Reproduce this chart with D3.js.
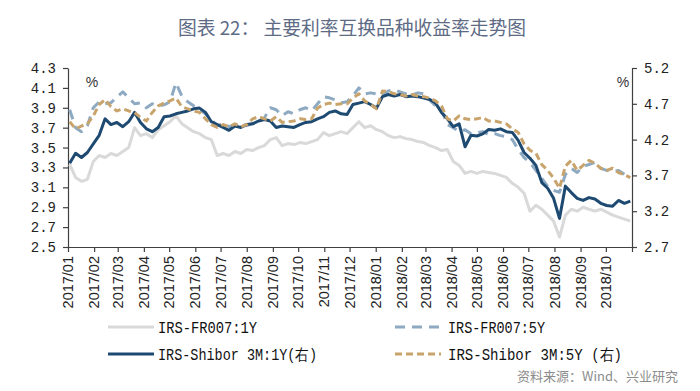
<!DOCTYPE html>
<html><head><meta charset="utf-8">
<script src="https://cdn.jsdelivr.net/npm/d3@7"></script>
<style>
html,body{margin:0;padding:0;background:#fff;}
svg{display:block;}
</style></head>
<body>
<svg id="chart" width="700" height="391"></svg>
<script>
// ---- data (weekly observations starting 2017-01-03) ----
const startDate = "2017-01-03";
const stepDays = 7;
const fr007_1y = [3.33,3.20,3.16,3.18,3.36,3.42,3.40,3.44,3.42,3.46,3.50,3.70,3.62,3.64,3.60,3.68,3.72,3.76,3.82,3.74,
3.70,3.66,3.64,3.60,3.58,3.42,3.44,3.42,3.46,3.44,3.48,3.47,3.50,3.52,3.58,3.60,3.52,3.54,3.53,3.55,
3.54,3.56,3.58,3.65,3.62,3.64,3.66,3.64,3.70,3.76,3.70,3.72,3.68,3.66,3.62,3.60,3.61,3.59,3.58,3.56,
3.55,3.52,3.50,3.47,3.48,3.36,3.32,3.24,3.26,3.24,3.26,3.25,3.24,3.22,3.20,3.14,3.10,3.04,2.86,2.92,
2.88,2.82,2.76,2.60,2.82,2.88,2.86,2.90,2.88,2.86,2.88,2.85,2.82,2.80,2.78,2.76];
const fr007_5y = [3.88,3.70,3.66,3.72,3.90,3.96,3.94,3.95,4.01,4.06,4.00,3.94,3.95,3.90,3.94,3.92,3.93,3.96,4.15,4.02,
3.96,3.92,3.88,3.84,3.78,3.72,3.74,3.71,3.73,3.74,3.72,3.74,3.76,3.80,3.90,3.88,3.82,3.86,3.84,3.88,
3.90,3.87,3.94,4.01,4.00,3.98,3.95,3.96,4.02,4.10,4.04,4.05,4.04,4.02,4.07,4.08,4.06,4.04,4.03,4.05,
4.04,3.98,3.92,3.88,3.73,3.70,3.66,3.68,3.64,3.65,3.66,3.63,3.64,3.62,3.61,3.58,3.48,3.40,3.35,3.27,
3.19,3.11,3.07,3.05,3.23,3.29,3.25,3.31,3.33,3.35,3.29,3.27,3.26,3.27,3.23,3.21];
const shibor_1y = [3.87,4.01,3.95,4.02,4.14,4.26,4.49,4.41,4.44,4.38,4.45,4.58,4.44,4.35,4.31,4.37,4.52,4.53,4.56,4.58,
4.60,4.63,4.64,4.58,4.45,4.41,4.37,4.33,4.39,4.37,4.41,4.42,4.46,4.48,4.46,4.37,4.39,4.38,4.37,4.41,
4.44,4.45,4.49,4.52,4.58,4.60,4.56,4.55,4.69,4.71,4.73,4.69,4.64,4.80,4.83,4.81,4.83,4.80,4.81,4.80,
4.78,4.76,4.71,4.58,4.49,4.38,4.42,4.10,4.26,4.25,4.28,4.34,4.33,4.35,4.31,4.30,4.19,4.02,3.94,3.84,
3.60,3.52,3.38,3.10,3.55,3.46,3.38,3.35,3.39,3.37,3.31,3.28,3.27,3.35,3.31,3.34];
const shibor_5y = [4.45,4.35,4.39,4.42,4.53,4.69,4.76,4.66,4.60,4.63,4.60,4.58,4.51,4.46,4.58,4.67,4.71,4.74,4.78,4.66,
4.63,4.60,4.58,4.49,4.41,4.37,4.41,4.38,4.42,4.38,4.41,4.49,4.52,4.49,4.46,4.52,4.44,4.45,4.46,4.49,
4.48,4.49,4.64,4.69,4.71,4.69,4.70,4.70,4.78,4.84,4.74,4.69,4.63,4.88,4.87,4.84,4.83,4.81,4.83,4.81,
4.80,4.78,4.74,4.67,4.49,4.46,4.53,4.49,4.48,4.49,4.51,4.46,4.46,4.44,4.42,4.35,4.30,4.14,4.05,4.01,
3.85,3.77,3.66,3.52,3.83,3.91,3.77,3.84,3.91,3.87,3.80,3.77,3.80,3.74,3.71,3.67];
const leftTicks = [2.5,2.7,2.9,3.1,3.3,3.5,3.7,3.9,4.1,4.3];
const rightTicks = [2.7,3.2,3.7,4.2,4.7,5.2];
const monthLabels = ["2017/01","2017/02","2017/03","2017/04","2017/05","2017/06","2017/07","2017/08","2017/09","2017/10","2017/11","2017/12",
"2018/01","2018/02","2018/03","2018/04","2018/05","2018/06","2018/07","2018/08","2018/09","2018/10"];
const seriesNames = ["IRS-FR007:1Y","IRS-FR007:5Y","IRS-Shibor 3M:1Y(右)","IRS-Shibor 3M:5Y (右)"];
const titleText = "图表 22：  主要利率互换品种收益率走势图";
const sourceText = "资料来源：Wind、兴业研究";

// ---- build ----
const parse = d3.timeParse("%Y-%m-%d");
const parseMonth = d3.timeParse("%Y/%m");
const t0 = parse(startDate);
const dates = fr007_1y.map((_, i) => d3.timeDay.offset(t0, i * stepDays));
const monthDates = monthLabels.map(parseMonth);

const svg = d3.select("#chart");
const L = 68, R = 632, T = 68, B = 247;

const x = d3.scaleTime().domain([parseMonth("2017/01"), parseMonth("2018/11")]).range([L, R]);
const yL = d3.scaleLinear().domain([2.5, 4.3]).range([B, T]);
const yR = d3.scaleLinear().domain([2.7, 5.2]).range([B, T]);

const monoFont = "'Liberation Mono','DejaVu Sans Mono',monospace";

// title
svg.append("text").attr("x", 178).attr("y", 35)
  .attr("textLength", 348).attr("lengthAdjust", "spacingAndGlyphs")
  .style("font-family", "'Noto Sans CJK SC',sans-serif").style("font-size", "19px")
  .style("fill", "#5d6b85").text(titleText);

// axes
const axL = svg.append("g").attr("transform", `translate(${L},0)`)
  .call(d3.axisLeft(yL).tickValues(leftTicks).tickSize(5).tickSizeOuter(0).tickFormat(d3.format(".1f")));
const axR = svg.append("g").attr("transform", `translate(${R},0)`)
  .call(d3.axisRight(yR).tickValues(rightTicks).tickSize(5).tickSizeOuter(0).tickFormat(d3.format(".1f")));
const axB = svg.append("g").attr("transform", `translate(0,${B})`)
  .call(d3.axisBottom(x).tickValues(monthDates.concat([parseMonth("2018/11")])).tickSize(5).tickSizeOuter(0).tickFormat(""));

[axL, axR, axB].forEach(g => {
  g.selectAll("path.domain").attr("stroke", "#404040").attr("stroke-width", 1.2);
  g.selectAll(".tick line").attr("stroke", "#404040").attr("stroke-width", 1.2);
});
[axL, axR].forEach(g => g.selectAll(".tick text")
  .style("font-family", monoFont).style("font-size", "14px").style("fill", "#222"));
axL.selectAll(".tick text").attr("x", -12);
axR.selectAll(".tick text").attr("x", 12);

// x labels rotated
svg.append("g").selectAll("text").data(monthDates).join("text")
  .attr("transform", d => `translate(${x(d)},256) rotate(-90)`)
  .attr("text-anchor", "end").attr("dy", "0.35em")
  .style("font-family", "'Liberation Sans',Arial,sans-serif").style("font-size", "14.5px")
  .style("fill", "#222").text((d, i) => monthLabels[i]);

// % units
svg.append("text").attr("x", 92).attr("y", 87).attr("text-anchor", "middle")
  .style("font-family", "'Liberation Sans',Arial,sans-serif").style("font-size", "14px").style("fill", "#333").text("%");
svg.append("text").attr("x", 623).attr("y", 87).attr("text-anchor", "middle")
  .style("font-family", "'Liberation Sans',Arial,sans-serif").style("font-size", "14px").style("fill", "#333").text("%");

// lines
const styles = [
  {data: fr007_1y, y: yL, color: "#d9d9d9", dash: null},
  {data: fr007_5y, y: yL, color: "#8eaac2", dash: "10,7"},
  {data: shibor_1y, y: yR, color: "#1e4a72", dash: null},
  {data: shibor_5y, y: yR, color: "#c8a46c", dash: "7,4"}
];
const plot = svg.append("g");
styles.forEach(s => {
  const line = d3.line().x((d, i) => x(dates[i])).y(d => s.y(d)).curve(d3.curveLinear);
  plot.append("path").datum(s.data).attr("d", line)
    .attr("fill", "none").attr("stroke", s.color).attr("stroke-width", 3)
    .attr("stroke-linejoin", "round")
    .attr("stroke-dasharray", s.dash);
});

// legend
const legendPos = [
  {lx: 108, tx: 158, y: 327, tw: 99},
  {lx: 395, tx: 448, y: 327, tw: 97},
  {lx: 108, tx: 158, y: 354, tw: 159},
  {lx: 395, tx: 448, y: 354, tw: 174}
];
const lg = svg.append("g");
styles.forEach((s, i) => {
  const p = legendPos[i];
  lg.append("line").attr("x1", p.lx).attr("x2", p.lx + 46).attr("y1", p.y).attr("y2", p.y)
    .attr("stroke", s.color).attr("stroke-width", 3).attr("stroke-dasharray", s.dash);
  lg.append("text").attr("x", p.tx).attr("y", p.y).attr("dy", "0.36em")
    .attr("textLength", p.tw).attr("lengthAdjust", "spacingAndGlyphs")
    .style("font-family", monoFont).style("font-size", "16px").style("fill", "#111")
    .text(seriesNames[i]);
});

// source
svg.append("text").attr("x", 678).attr("y", 381).attr("text-anchor", "end")
  .style("font-family", "'Noto Sans CJK SC',sans-serif").style("font-size", "13px")
  .style("fill", "#8c8c8c").text(sourceText);
</script>
</body></html>
